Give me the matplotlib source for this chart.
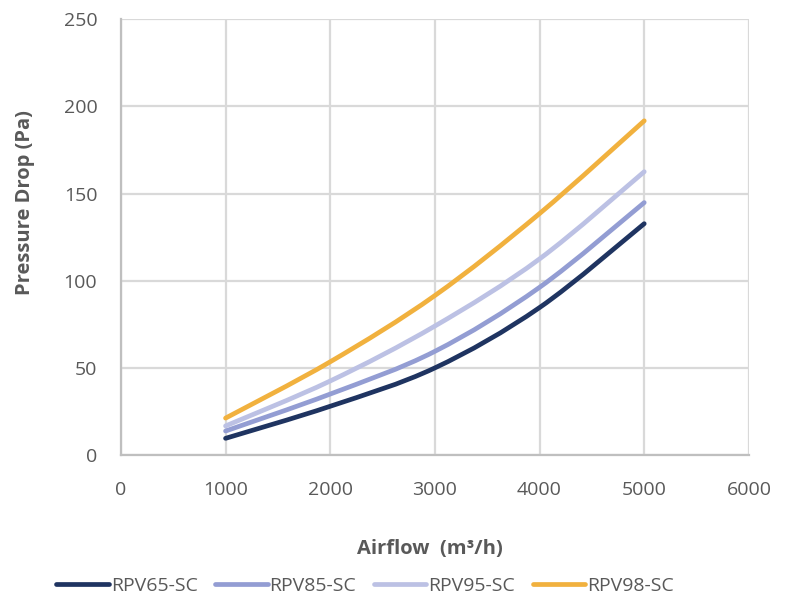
import matplotlib

matplotlib.use("Agg")
import matplotlib.pyplot as plt
import numpy as np
from matplotlib.lines import Line2D
from matplotlib.patches import PathPatch
from matplotlib.path import Path

# airflow (m3/h) and pressure drop (Pa)
airflow = [1000, 2000, 3000, 4000, 5000]
rpv65 = [9.6, 28.0, 50.0, 84.6, 132.7]
rpv85 = [13.8, 35.0, 59.5, 96.2, 144.8]
rpv95 = [16.7, 42.5, 74.0, 112.5, 162.5]
rpv98 = [21.2, 53.5, 91.5, 138.5, 191.7]

series = ["RPV65-SC", "RPV85-SC", "RPV95-SC", "RPV98-SC"]
colors = ["#1f3461", "#939dd3", "#bcc1e4", "#f1b13e"]

GREY = "#595959"
GRID = "#d9d9d9"
LW = 3.4


def smooth_path(xs, ys):
    """Excel-style smoothed line: cubic Bezier segments through the points."""
    p = np.column_stack([xs, ys]).astype(float)
    ext = np.vstack([p[0], p, p[-1]])
    verts = [p[0]]
    codes = [Path.MOVETO]
    for i in range(len(p) - 1):
        c1 = ext[i + 1] + (ext[i + 2] - ext[i]) / 6.0
        c2 = ext[i + 2] - (ext[i + 3] - ext[i + 1]) / 6.0
        verts += [c1, c2, p[i + 1]]
        codes += [Path.CURVE4] * 3
    return Path(verts, codes)


plt.rcParams["font.family"] = ["Open Sans", "DejaVu Sans"]

fig = plt.figure(figsize=(7.85, 5.98), dpi=100)
ax = fig.add_axes([0.154, 0.239, 0.800, 0.729])

handles = []
for name, ys, c in zip(series, [rpv65, rpv85, rpv95, rpv98], colors):
    ax.add_patch(PathPatch(smooth_path(airflow, ys), facecolor="none",
                           edgecolor=c, linewidth=LW, capstyle="round",
                           joinstyle="round"))
    handles.append(Line2D([], [], color=c, linewidth=LW,
                          solid_capstyle="round", label=name))

ax.set_xlim(0, 6000)
ax.set_ylim(0, 250)
ax.set_xticks(range(0, 6001, 1000))
ax.set_yticks(range(0, 251, 50))
ax.grid(True, color=GRID, linewidth=1.6)
ax.set_axisbelow(True)
for s in ["top", "right"]:
    ax.spines[s].set_visible(False)
for s in ["left", "bottom"]:
    ax.spines[s].set_color("#bfbfbf")
    ax.spines[s].set_linewidth(1.6)
ax.tick_params(axis="both", length=0, labelsize=14, labelcolor=GREY)
ax.tick_params(axis="x", pad=19)
ax.tick_params(axis="y", pad=17)

ax.set_xlabel("Airflow  (m³/h)", fontsize=14.5, fontweight="bold", color=GREY)
ax.set_ylabel("Pressure Drop (Pa)", fontsize=14.5, fontweight="bold", color=GREY)
ax.xaxis.set_label_coords(0.548, 0.099, transform=fig.transFigure)
ax.yaxis.set_label_coords(0.044, 0.662, transform=fig.transFigure)

fig.legend(handles=handles, loc="center", bbox_to_anchor=(0.465, 0.02),
           ncol=4, frameon=False, fontsize=14, labelcolor=GREY,
           handlelength=2.7, handletextpad=0.1, columnspacing=0.9)

fig.savefig("out.png", dpi=100)
